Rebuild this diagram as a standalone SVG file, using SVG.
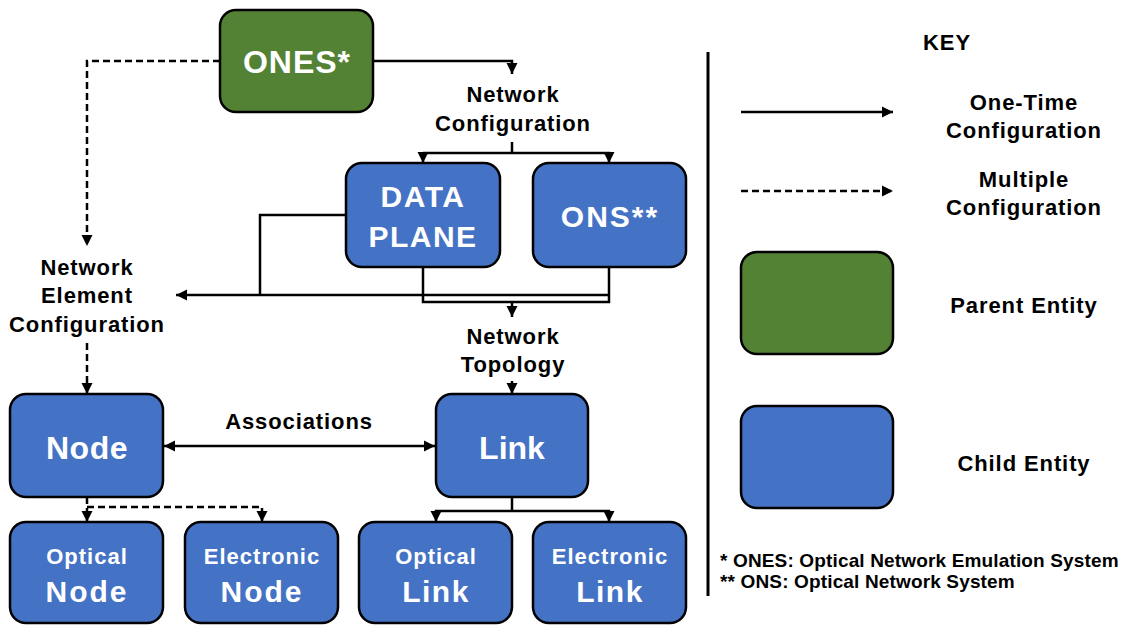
<svg xmlns="http://www.w3.org/2000/svg" width="1122" height="625" viewBox="0 0 1122 625">
<style>
.box{stroke:#000;stroke-width:2.5}
.blue{fill:#4472C4}
.green{fill:#548235}
.wt{fill:#fff;font-family:"Liberation Sans",Arial,sans-serif;font-weight:bold;text-anchor:middle}
.bt{fill:#000;font-family:"Liberation Sans",Arial,sans-serif;font-weight:bold;text-anchor:middle;font-size:22px;letter-spacing:0.9px}
.ln{fill:none;stroke:#000;stroke-width:2.5}
.dash{stroke-dasharray:7 4}
</style>
<defs>
<marker id="ah" viewBox="0 0 10 10" refX="10" refY="5" markerWidth="4.5" markerHeight="4.5" orient="auto-start-reverse" markerUnits="strokeWidth">
<path d="M0,0 L10,5 L0,10 z" fill="#000"/>
</marker>
</defs>
<rect width="1122" height="625" fill="#fff"/>

<g id="connectors">
<polyline class="ln" points="373,61 512,61 512,74" marker-end="url(#ah)"/>
<polyline class="ln dash" points="220,61 87,61 87,246" marker-end="url(#ah)"/>
<polyline class="ln" points="512,142 512,153"/>
<polyline class="ln" points="423,153 423,163" marker-end="url(#ah)"/>
<polyline class="ln" points="423,153 609,153 609,163" marker-end="url(#ah)"/>
<polyline class="ln" points="346,215 260,215 260,295"/>
<polyline class="ln" points="609,295 176,295" marker-end="url(#ah)"/>
<polyline class="ln" points="423,267 423,302 609,302 609,267"/>
<polyline class="ln" points="512,302 512,317" marker-end="url(#ah)"/>
<polyline class="ln" points="512,381 512,394" marker-end="url(#ah)"/>
<polyline class="ln dash" points="87,343 87,394" marker-end="url(#ah)"/>
<polyline class="ln" points="164,446 435,446" marker-start="url(#ah)" marker-end="url(#ah)"/>
<polyline class="ln dash" points="87,497 87,522" marker-end="url(#ah)"/>
<polyline class="ln dash" points="87,507 262,507 262,522" marker-end="url(#ah)"/>
<polyline class="ln" points="512,497 512,511"/>
<polyline class="ln" points="512,511 436,511 436,522" marker-end="url(#ah)"/>
<polyline class="ln" points="512,511 609,511 609,522" marker-end="url(#ah)"/>
</g>

<g id="ones">
<rect class="box green" x="220" y="10" width="153" height="102" rx="16"/>
<text class="wt" x="297" y="73" font-size="32" letter-spacing="1">ONES*</text>
</g>
<g id="network-configuration">
<text class="bt" x="513" y="102">Network</text>
<text class="bt" x="513" y="131">Configuration</text>
</g>
<g id="data-plane">
<rect class="box blue" x="346" y="163" width="154" height="104" rx="16"/>
<text class="wt" x="423" y="207" font-size="30" letter-spacing="1.5">DATA</text>
<text class="wt" x="423" y="247" font-size="30" letter-spacing="1.5">PLANE</text>
</g>
<g id="ons">
<rect class="box blue" x="533" y="163" width="153" height="104" rx="16"/>
<text class="wt" x="610" y="227" font-size="30" letter-spacing="2">ONS**</text>
</g>
<g id="network-element-configuration">
<text class="bt" x="87" y="275">Network</text>
<text class="bt" x="87" y="303">Element</text>
<text class="bt" x="87" y="332">Configuration</text>
</g>
<g id="network-topology">
<text class="bt" x="513" y="344">Network</text>
<text class="bt" x="513" y="372">Topology</text>
</g>
<g id="node">
<rect class="box blue" x="10" y="394" width="153" height="103" rx="16"/>
<text class="wt" x="87" y="459" font-size="32" letter-spacing="0.5">Node</text>
</g>
<g id="associations">
<text class="bt" x="299" y="429">Associations</text>
</g>
<g id="link">
<rect class="box blue" x="436" y="394" width="152" height="103" rx="16"/>
<text class="wt" x="512" y="459" font-size="32">Link</text>
</g>
<g id="optical-node">
<rect class="box blue" x="10" y="522" width="153" height="101" rx="16"/>
<text class="wt" x="87" y="564" font-size="22" letter-spacing="1">Optical</text>
<text class="wt" x="87" y="602" font-size="30" letter-spacing="2">Node</text>
</g>
<g id="electronic-node">
<rect class="box blue" x="185" y="522" width="153" height="101" rx="16"/>
<text class="wt" x="262" y="564" font-size="22" letter-spacing="1">Electronic</text>
<text class="wt" x="262" y="602" font-size="30" letter-spacing="2">Node</text>
</g>
<g id="optical-link">
<rect class="box blue" x="359" y="522" width="153" height="101" rx="16"/>
<text class="wt" x="436" y="564" font-size="22" letter-spacing="1">Optical</text>
<text class="wt" x="436" y="602" font-size="30" letter-spacing="1.5">Link</text>
</g>
<g id="electronic-link">
<rect class="box blue" x="533" y="522" width="153" height="101" rx="16"/>
<text class="wt" x="610" y="564" font-size="22" letter-spacing="1">Electronic</text>
<text class="wt" x="610" y="602" font-size="30" letter-spacing="1.5">Link</text>
</g>

<g id="key">
<line x1="708" y1="52" x2="708" y2="596" stroke="#000" stroke-width="3"/>
<text class="bt" x="947" y="50" font-size="22" letter-spacing="1.5">KEY</text>
<line class="ln" x1="741" y1="112" x2="893" y2="112" marker-end="url(#ah)"/>
<text class="bt" x="1024" y="110">One-Time</text>
<text class="bt" x="1024" y="138">Configuration</text>
<line class="ln dash" x1="741" y1="191" x2="893" y2="191" marker-end="url(#ah)"/>
<text class="bt" x="1024" y="187">Multiple</text>
<text class="bt" x="1024" y="215">Configuration</text>
<rect class="box green" x="741" y="252" width="152" height="102" rx="16"/>
<text class="bt" x="1024" y="313">Parent Entity</text>
<rect class="box blue" x="741" y="406" width="152" height="102" rx="16"/>
<text class="bt" x="1024" y="471">Child Entity</text>
<text x="720" y="567" font-family="'Liberation Sans',Arial,sans-serif" font-weight="bold" font-size="19" letter-spacing="0.15">* ONES: Optical Network Emulation System</text>
<text x="720" y="588" font-family="'Liberation Sans',Arial,sans-serif" font-weight="bold" font-size="19" letter-spacing="0.15">** ONS: Optical Network System</text>
</g>
</svg>
